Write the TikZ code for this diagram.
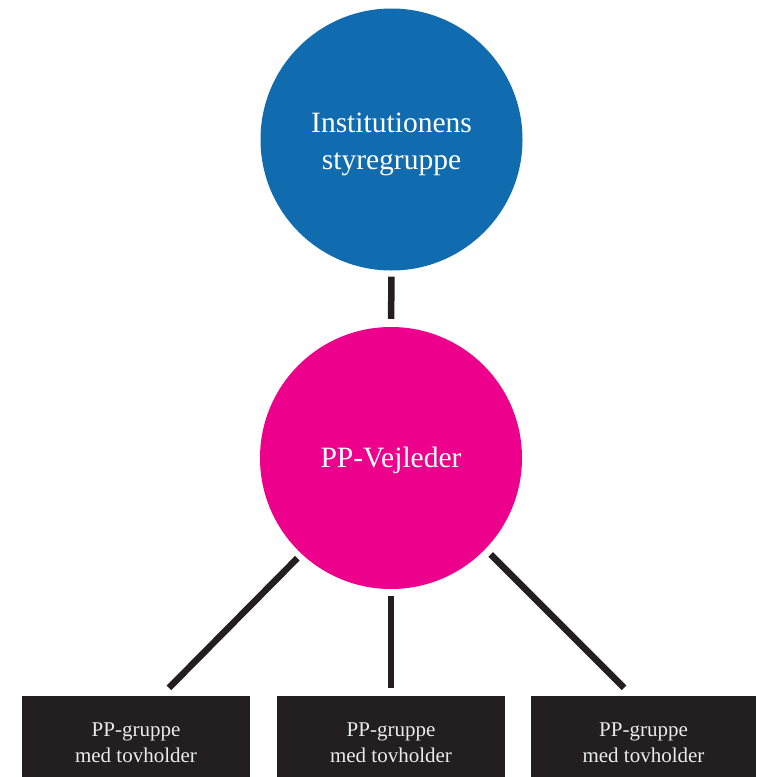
\documentclass[tikz,border=0pt]{standalone}
\usepackage{fontspec}
\setmainfont{Liberation Serif}
\usetikzlibrary{calc}
\definecolor{topblue}{RGB}{16,108,174}
\definecolor{midpink}{RGB}{236,0,140}
\definecolor{boxdark}{RGB}{35,31,32}
\tikzset{
  circ/.style={circle, minimum size=262pt, inner sep=0pt, text=white, align=center, font=\fontsize{29.5}{37.5}\selectfont},
  grp/.style={rectangle, fill=boxdark, minimum height=81pt, inner sep=0pt, text=white!92!black, align=center, font=\fontsize{21}{26}\selectfont},
  conn/.style={draw=boxdark, line width=6.5pt}
}
\begin{document}
\begin{tikzpicture}[x=1pt,y=-1pt]
\useasboundingbox (0,0) rectangle (756,777);
\node[circ, fill=topblue] (top) at (391.5,139.5) {\rule{0pt}{29pt}Institutionens\\styregruppe};
\node[circ, fill=midpink] (mid) at (391,458) {\rule{0pt}{24.5pt}PP-Vejleder};
\node[grp, minimum width=228pt] (g1) at (136,736.5) {\rule{0pt}{26.5pt}PP-gruppe\\med tovholder};
\node[grp, minimum width=228pt] (g2) at (391,736.5) {\rule{0pt}{26.5pt}PP-gruppe\\med tovholder};
\node[grp, minimum width=225pt] (g3) at (643.5,736.5) {\rule{0pt}{26.5pt}PP-gruppe\\med tovholder};
\coordinate (e1) at ($(g1.north)+(33,-8)$);
\coordinate (e3) at ($(g3.north)+(-19.5,-8)$);
\draw[conn, shorten <=6pt, shorten >=8pt] (top) -- (mid);
\draw[conn, shorten <=6pt] (mid.227.7) -- (e1);
\draw[conn, shorten <=7pt, shorten >=8pt] (mid) -- (g2);
\draw[conn, shorten <=7.5pt] (mid.316.2) -- (e3);
\end{tikzpicture}
\end{document}
